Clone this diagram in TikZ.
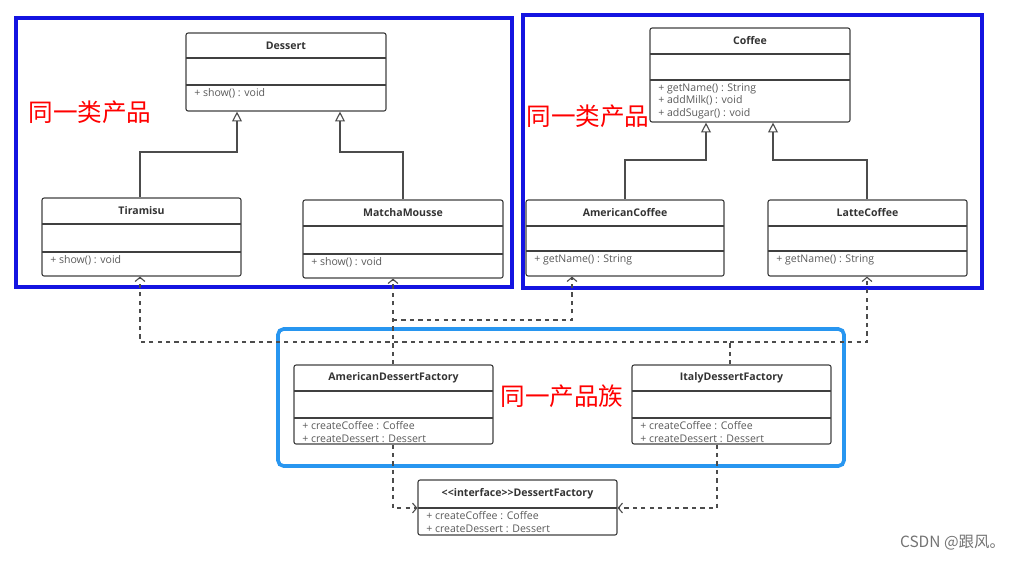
\documentclass[tikz,border=0pt]{standalone}
\usepackage{fontspec}
\setmainfont{Open Sans}
\newfontfamily\cjk{Noto Sans CJK SC}
\usetikzlibrary{arrows.meta,calc,fit}

\definecolor{frameblue}{RGB}{20,20,225}
\definecolor{familyblue}{RGB}{40,150,240}
\definecolor{membergray}{RGB}{90,90,90}

\tikzset{
  cls/.style={draw=black!75, thick, rounded corners=1.5pt, inner sep=0pt},
  clstitle/.style={font=\fontsize{7.5}{8}\selectfont\bfseries, text=black!80},
  member/.style={font=\fontsize{7.5}{9}\selectfont, text=membergray, align=left, inner sep=0pt, anchor=north west},
  inherit/.style={thick, draw=black!70, -{Triangle[open,length=7pt,width=7pt]}},
  depend/.style={thick, draw=black!70, dashed, -{Straight Barb[length=3pt,width=7pt]}},
  frame/.style={line width=2.6pt},
  tag/.style={font=\cjk\fontsize{17.5}{19}\selectfont, text=red}
}

% name, x1, y1, x2, y2, first line, second line, title, members
\newcommand\umlclass[9]{%
  \node[cls, fit={(#2,#3) (#4,#5)}] (#1) {};
  \draw[thick, draw=black!75] (#2,#6) -- (#4,#6) (#2,#7) -- (#4,#7);
  \node[clstitle] at ($(#2,#3)!0.5!(#4,#6)$) {#8};
  \node[member] at ($(#2,#7)+(8,3)$) {#9};
}

\begin{document}
\begin{tikzpicture}[x=0.025cm, y=-0.025cm]
  \useasboundingbox (0,0) rectangle (1016,560);

  % frames
  \draw[frame, frameblue] (16,18) rectangle (512,287);
  \draw[frame, frameblue] (523,15) rectangle (982,288);
  \draw[frame, familyblue, rounded corners=4pt] (278,329) rectangle (844,466);

  % classes
  \umlclass{Dessert}{186}{33}{386}{111}{58}{85}{Dessert}{+ show() : void}
  \umlclass{Tiramisu}{42}{198}{241}{276}{224}{252}{Tiramisu}{+ show() : void}
  \umlclass{Matcha}{303}{200}{503}{278}{226}{254}{MatchaMousse}{+ show() : void}
  \umlclass{Coffee}{650}{28}{850}{122}{54}{80}{Coffee}{+ getName() : String\\+ addMilk() : void\\+ addSugar() : void}
  \umlclass{AmCoffee}{526}{200}{724}{276}{226}{251}{AmericanCoffee}{+ getName() : String}
  \umlclass{Latte}{768}{200}{967}{276}{226}{251}{LatteCoffee}{+ getName() : String}
  \umlclass{AmFactory}{294}{365}{493}{444}{391}{418}{AmericanDessertFactory}{+ createCoffee : Coffee\\+ createDessert : Dessert}
  \umlclass{ItFactory}{632}{365}{831}{444}{391}{418}{ItalyDessertFactory}{+ createCoffee : Coffee\\+ createDessert : Dessert}
  \umlclass{Factory}{418}{480}{617}{535}{508}{508}{<{}<interface>{}>DessertFactory}{+ createCoffee : Coffee\\+ createDessert : Dessert}

  % inheritance
  \draw[inherit] (Tiramisu.north west -| 140,0) |- (237,152) -- (Dessert.south west -| 237,0);
  \draw[inherit] (Matcha.north west -| 403,0) |- (340,152) -- (Dessert.south west -| 340,0);
  \draw[inherit] (AmCoffee.north west -| 625,0) |- (706,160) -- (Coffee.south west -| 706,0);
  \draw[inherit] (Latte.north west -| 867,0) |- (773,160) -- (Coffee.south west -| 773,0);

  % dependencies
  \coordinate (amsplit) at (393,320);
  \coordinate (itsplit) at (730,342);
  \draw[depend] (AmFactory.north west -| 393,0) -- (Matcha.south west -| 393,0);
  \draw[depend] (amsplit) -| (AmCoffee.south west -| 572,0);
  \draw[depend] (ItFactory.north west -| 730,0) -- (itsplit) -| (Tiramisu.south west -| 140,0);
  \draw[depend] (itsplit) -| (Latte.south west -| 867,0);
  \draw[depend] (AmFactory.south west -| 393,0) |- (Factory.west |- 0,508);
  \draw[depend] (ItFactory.south west -| 717,0) |- (Factory.east |- 0,508);

  % labels
  \node[tag] at (90,112) {同一类产品};
  \node[tag] at (588,116) {同一类产品};
  \node[tag] at (562,396) {同一产品族};
  \node[font=\cjk\fontsize{11}{12}\selectfont, text=black!55, anchor=south east] at (1010,555) {CSDN @跟风。};
\end{tikzpicture}
\end{document}
